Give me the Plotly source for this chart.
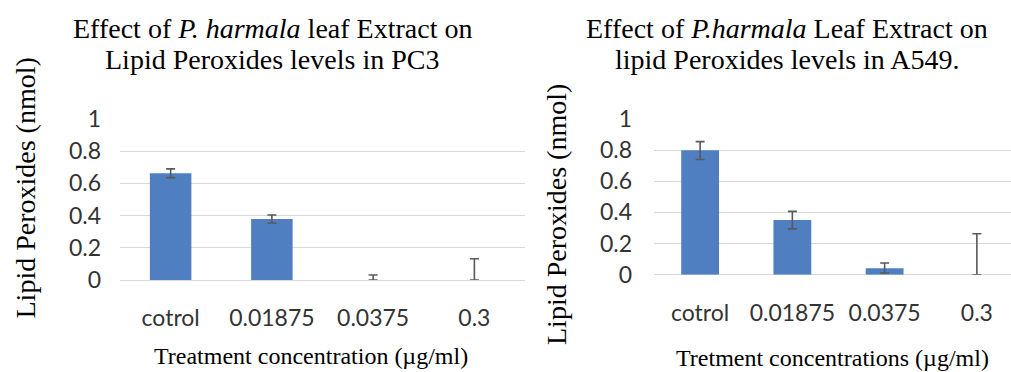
import plotly.graph_objects as go

categories = ["cotrol", "0.01875", "0.0375", "0.3"]

pc3_values = [0.663, 0.379, 0.0, 0.0]
pc3_err_plus = [0.027, 0.025, 0.031, 0.132]
pc3_err_minus = [0.027, 0.025, 0.0, 0.0]

a549_values = [0.80, 0.352, 0.042, 0.0]
a549_err_plus = [0.055, 0.055, 0.033, 0.263]
a549_err_minus = [0.060, 0.058, 0.031, 0.0]

y_ticks = [0, 0.2, 0.4, 0.6, 0.8, 1]
y_tick_text = ["0", "0.2", "0.4", "0.6", "0.8", "1"]

W, H = 1011, 372
BAR = "#4f7fc0"
ERR = "#595959"
GRID = "#d9d9d9"
TICKFONT = dict(family="Lato, Calibri, sans-serif", size=23, color="#333333")
SERIF = "Liberation Serif, Times New Roman, serif"

fig = go.Figure()
fig.add_trace(go.Bar(
    x=categories, y=pc3_values, xaxis="x", yaxis="y", width=0.41,
    marker=dict(color=BAR, line=dict(width=0)),
    error_y=dict(type="data", symmetric=False, array=pc3_err_plus,
                 arrayminus=pc3_err_minus, color=ERR, thickness=1.6, width=4.5),
    showlegend=False, hoverinfo="x+y"))
fig.add_trace(go.Bar(
    x=categories, y=a549_values, xaxis="x2", yaxis="y2", width=0.41,
    marker=dict(color=BAR, line=dict(width=0)),
    error_y=dict(type="data", symmetric=False, array=a549_err_plus,
                 arrayminus=a549_err_minus, color=ERR, thickness=1.6, width=4.5),
    showlegend=False, hoverinfo="x+y"))

def py(p):
    return 1 - p / H

def px(p):
    return p / W

yax = dict(range=[0, 1], tickvals=y_ticks, ticktext=y_tick_text, showgrid=True,
           gridcolor=GRID, gridwidth=1, zeroline=True, zerolinecolor=GRID,
           zerolinewidth=1, showline=False, tickfont=TICKFONT, ticks="",
           fixedrange=True, automargin=False)
xax = dict(showgrid=False, zeroline=False, showline=False, tickfont=TICKFONT,
           ticks="", type="category", automargin=False)

fig.update_layout(
    width=W, height=H, margin=dict(l=0, r=0, t=0, b=0, pad=0, autoexpand=False),
    paper_bgcolor="white", plot_bgcolor="white",
    xaxis=dict(xax, domain=[px(120), px(525)], anchor="y", range=[-0.5, 3.5],
               ticklabelstandoff=22),
    yaxis=dict(yax, domain=[py(280), py(119)], anchor="x", ticklabelstandoff=18),
    xaxis2=dict(xax, domain=[px(654), 1.0], anchor="y2", range=[-0.5, 3.37],
                ticklabelstandoff=22),
    yaxis2=dict(yax, domain=[py(274.7), py(119)], anchor="x2", ticklabelstandoff=21),
    bargap=0.59,
)

ann = []
def text(t, x, y, size, angle=0):
    ann.append(dict(text=t, x=px(x), y=py(y), xref="paper", yref="paper",
                    showarrow=False, xanchor="center", yanchor="middle",
                    textangle=angle, font=dict(family=SERIF, size=size, color="#000000")))

text("Effect of <i>P. harmala</i> leaf Extract on", 272, 28, 28)
text("Lipid Peroxides levels in PC3", 272, 60, 28)
text("Effect of <i>P.harmala</i> Leaf Extract on", 787, 28, 28)
text("lipid Peroxides levels in A549.", 787, 60, 28)
text("Lipid Peroxides (nmol)", 25, 188.5, 28, -90)
text("Lipid Peroxides (nmol)", 556, 215, 28, -90)
text("Treatment concentration (µg/ml)", 311, 356, 24)
text("Tretment concentrations (µg/ml)", 832, 358, 24)
fig.update_layout(annotations=ann)

fig.write_html(
    "out.html",
    config={"displayModeBar": False},
    post_script="document.body.style.margin='0';document.body.style.overflow='hidden';",
)
